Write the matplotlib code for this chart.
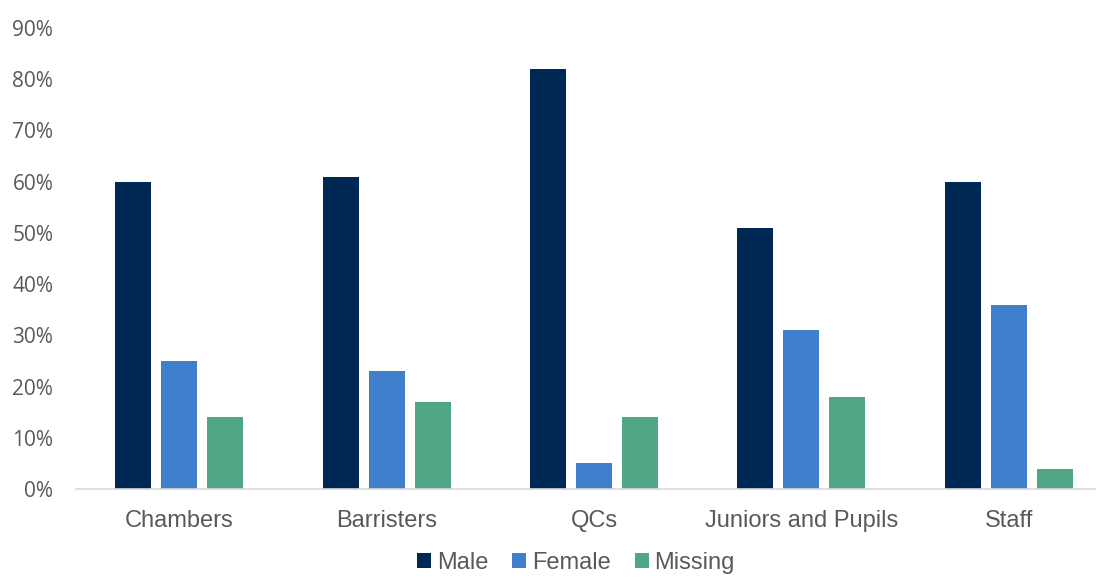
import numpy as np
import matplotlib.pyplot as plt

categories = ["Chambers", "Barristers", "QCs", "Juniors and Pupils", "Staff"]
male = [60, 61, 82, 51, 60]
female = [25, 23, 5, 31, 36]
missing = [14, 17, 14, 18, 4]

colors = ["#002855", "#3F7FCC", "#4FA584"]
series = [("Male", male), ("Female", female), ("Missing", missing)]

fig = plt.figure(figsize=(10.96, 5.78), dpi=100)
ax = fig.add_axes([75.5 / 1096, 1 - 489 / 578, 1037 / 1096, (489 - 28) / 578])

x = np.arange(len(categories))
w = 0.174
step = 0.222
for i, (name, vals) in enumerate(series):
    ax.bar(x + (i - 1) * step, np.array(vals) / 100, w, color=colors[i], label=name, zorder=2)

ax.set_xlim(-0.5, len(categories) - 0.5)
ax.set_ylim(0, 0.9)
ax.set_yticks(np.arange(0, 0.91, 0.1))
ax.set_yticklabels([f"{int(round(v * 100))}%" for v in np.arange(0, 0.91, 0.1)],
                   fontsize=15, color="#595959", family="Open Sans")
ax.set_xticks(x)
ax.set_xticklabels(categories, fontsize=17, color="#595959", family="Liberation Sans")
ax.tick_params(axis="both", length=0)
ax.tick_params(axis="x", pad=15)
ax.tick_params(axis="y", pad=16)
for s in ["top", "right", "left"]:
    ax.spines[s].set_visible(False)
ax.spines["bottom"].set_color("#D9D9D9")
ax.spines["bottom"].set_linewidth(1.2)

leg = fig.legend(loc="center", bbox_to_anchor=(576 / 1096, 1 - 563 / 578), ncol=3,
                 frameon=False, prop={"family": "Liberation Sans", "size": 17},
                 handlelength=0.6, handleheight=0.6, handletextpad=0.25, columnspacing=1.0,
                 borderpad=0.1)
for t in leg.get_texts():
    t.set_color("#595959")

fig.savefig("out.png", dpi=100)
